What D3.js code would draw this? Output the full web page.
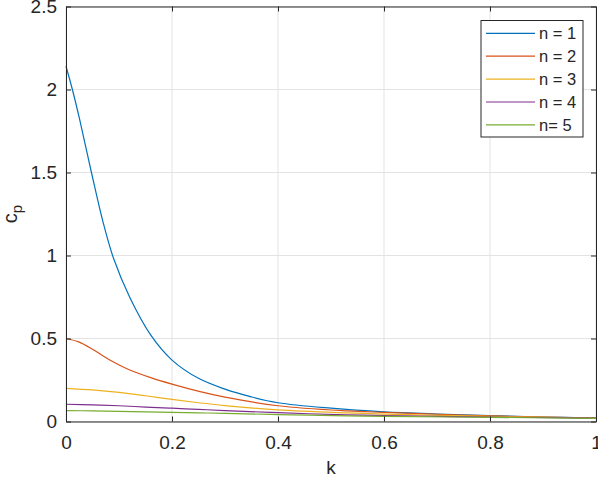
<!DOCTYPE html>
<html>
<head>
<meta charset="utf-8">
<script src="https://cdn.jsdelivr.net/npm/d3@7"></script>
<style>
  body { margin: 0; background: #fff; }
  svg text { font-family: "Liberation Sans", Arial, Helvetica, sans-serif; fill: #262626; }
</style>
</head>
<body>
<div id="chart"></div>
<script>
// cp versus k for n = 1..5

const width = 598,
  height = 478;

const seriesNames = ["n = 1", "n = 2", "n = 3", "n = 4", "n= 5"];
const colors = ["#0072BD", "#D95319", "#EDB120", "#7E2F8E", "#77AC30"];

const k1 = [0, 0.012, 0.025, 0.048, 0.07, 0.09, 0.12, 0.16, 0.2, 0.25, 0.3, 0.35, 0.4, 0.5, 0.6, 0.7, 0.8, 0.9, 1.0];
const cp1 = [2.14, 2.0, 1.83, 1.5, 1.2, 0.98, 0.75, 0.52, 0.37, 0.26, 0.195, 0.148, 0.113, 0.08, 0.058, 0.045, 0.035, 0.027, 0.021];

const k2 = [0, 0.025, 0.05, 0.08, 0.115, 0.16, 0.2, 0.253, 0.3, 0.4, 0.53, 0.6, 0.8, 1.0];
const cp2 = [0.5, 0.478, 0.435, 0.375, 0.318, 0.264, 0.225, 0.18, 0.147, 0.095, 0.064, 0.055, 0.034, 0.021];

const k3 = [0, 0.05, 0.1, 0.15, 0.2, 0.25, 0.3, 0.4, 0.53, 0.6, 0.8, 1.0];
const cp3 = [0.2, 0.19, 0.175, 0.155, 0.133, 0.113, 0.096, 0.07, 0.052, 0.045, 0.031, 0.021];

const k4 = [0, 0.05, 0.1, 0.15, 0.2, 0.25, 0.3, 0.4, 0.53, 0.6, 0.8, 1.0];
const cp4 = [0.104, 0.1, 0.095, 0.087, 0.08, 0.073, 0.066, 0.053, 0.04, 0.036, 0.027, 0.02];

const k5 = [0, 0.05, 0.1, 0.15, 0.2, 0.25, 0.3, 0.4, 0.53, 0.6, 0.8, 1.0];
const cp5 = [0.066, 0.064, 0.061, 0.058, 0.055, 0.052, 0.049, 0.042, 0.034, 0.031, 0.025, 0.019];

const xTicks = [0, 0.2, 0.4, 0.6, 0.8, 1];
const yTicks = [0, 0.5, 1, 1.5, 2, 2.5];

const series = [[k1, cp1], [k2, cp2], [k3, cp3], [k4, cp4], [k5, cp5]];

const margin = { top: 6.5, right: 2, bottom: 56.5, left: 66 };

const svg = d3.select("#chart")
  .append("svg")
  .attr("width", width)
  .attr("height", height);

const x = d3.scaleLinear()
  .domain([0, 1])
  .range([margin.left, width - margin.right]);

const y = d3.scaleLinear()
  .domain([0, 2.5])
  .range([height - margin.bottom, margin.top]);

// grid
svg.append("g")
  .selectAll("line.gx")
  .data(xTicks)
  .join("line")
  .attr("x1", d => x(d)).attr("x2", d => x(d))
  .attr("y1", y(0)).attr("y2", y(2.5))
  .attr("stroke", "#e3e3e3");

svg.append("g")
  .selectAll("line.gy")
  .data(yTicks)
  .join("line")
  .attr("x1", x(0)).attr("x2", x(1))
  .attr("y1", d => y(d)).attr("y2", d => y(d))
  .attr("stroke", "#e3e3e3");

// lines
const line = d3.line()
  .x(d => x(d[0]))
  .y(d => y(d[1]))
  .curve(d3.curveCatmullRom.alpha(0.5));

svg.append("g")
  .selectAll("path")
  .data(series)
  .join("path")
  .attr("d", s => line(d3.zip(s[0], s[1])))
  .attr("fill", "none")
  .attr("stroke", (s, i) => colors[i])
  .attr("stroke-width", 1.2);

// axes (matlab style box, ticks inside)
const axisColor = "#262626";
const tickLen = 5;

const axBottom = svg.append("g")
  .attr("transform", `translate(0,${y(0)})`)
  .call(d3.axisBottom(x).tickValues(xTicks).tickSizeInner(-tickLen).tickSizeOuter(0).tickPadding(14).tickFormat(d3.format("~g")));
const axTop = svg.append("g")
  .attr("transform", `translate(0,${y(2.5)})`)
  .call(d3.axisTop(x).tickValues(xTicks).tickSizeInner(-tickLen).tickSizeOuter(0).tickFormat(""));
const axLeft = svg.append("g")
  .attr("transform", `translate(${x(0)},0)`)
  .call(d3.axisLeft(y).tickValues(yTicks).tickSizeInner(-tickLen).tickSizeOuter(0).tickPadding(9).tickFormat(d3.format("~g")));
const axRight = svg.append("g")
  .attr("transform", `translate(${x(1)},0)`)
  .call(d3.axisRight(y).tickValues(yTicks).tickSizeInner(-tickLen).tickSizeOuter(0).tickFormat(""));

[axBottom, axTop, axLeft, axRight].forEach(g => {
  g.select(".domain").attr("stroke", axisColor).attr("stroke-width", 1);
  g.selectAll(".tick line").attr("stroke", axisColor);
  g.selectAll(".tick text")
    .attr("font-family", null)
    .attr("fill", axisColor)
    .style("font-size", "19px");
});

// axis labels
svg.append("text")
  .attr("x", x(0.5))
  .attr("y", 474)
  .attr("text-anchor", "middle")
  .style("font-size", "19px")
  .text("k");

const ylab = svg.append("text")
  .attr("transform", `translate(17,${y(1.25)}) rotate(-90)`)
  .attr("text-anchor", "middle")
  .style("font-size", "20px");
ylab.append("tspan").text("c");
ylab.append("tspan").attr("dy", 5).style("font-size", "15px").text("p");

// legend
const legend = svg.append("g").attr("transform", "translate(481,20.5)");
legend.append("rect")
  .attr("width", 102)
  .attr("height", 116.5)
  .attr("fill", "#fff")
  .attr("stroke", axisColor);

const rows = legend.selectAll("g.row")
  .data(seriesNames)
  .join("g")
  .attr("transform", (d, i) => `translate(0,${12.8 + i * 22.9})`);

rows.append("line")
  .attr("x1", 5).attr("x2", 54)
  .attr("stroke", (d, i) => colors[i])
  .attr("stroke-width", 1.2);

rows.append("text")
  .attr("x", 58)
  .attr("dy", "0.35em")
  .style("font-size", "16.5px")
  .text(d => d);
</script>
</body>
</html>
